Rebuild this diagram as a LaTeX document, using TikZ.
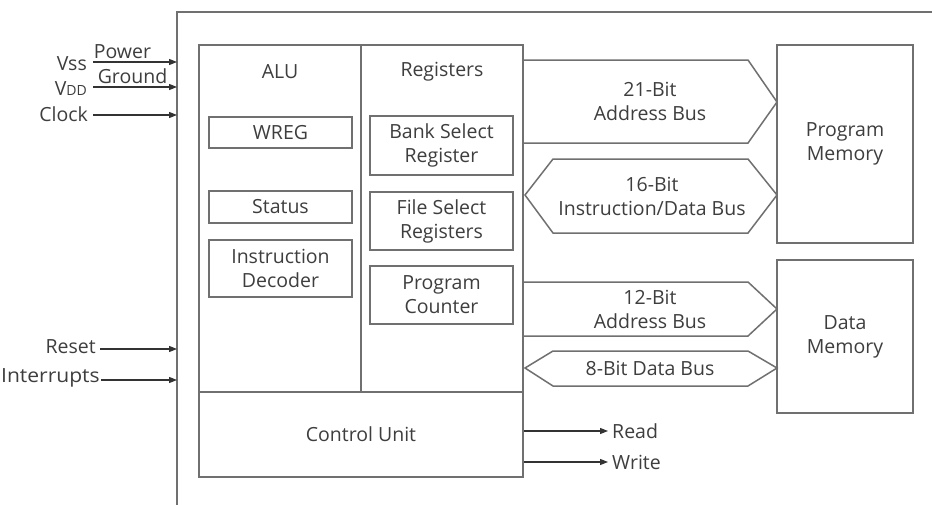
\documentclass[tikz,border=0pt]{standalone}
\usepackage{fontspec}
\setmainfont{Open Sans}
\usetikzlibrary{arrows.meta}
\definecolor{linegray}{HTML}{707070}
\definecolor{textgray}{HTML}{3E3E3E}
\definecolor{wiregray}{HTML}{333333}
\begin{document}
\begin{tikzpicture}[x=1pt,y=-1pt,
  every node/.style={text=textgray,font=\fontsize{19.5}{24}\selectfont,align=center},
  blk/.style={draw=linegray,line width=1.5pt,inner sep=0pt},
  bus/.style={draw=linegray,line width=1.5pt,line join=miter},
  wire/.style={draw=wiregray,line width=1.1pt,-{Triangle[length=8pt,width=6pt]}},
  lbl/.style={inner sep=1pt}]
\useasboundingbox (0,0) rectangle (932,504);
\fill[white] (0,0) rectangle (932,504);

% chip outline
\draw[linegray,line width=1.5pt] (934,12) -- (177,12) -- (177,506);

% CPU core blocks
\node[blk,minimum width=162pt,minimum height=347pt] (alu)  at (280,218.5) {};
\node[blk,minimum width=162pt,minimum height=347pt] (regs) at (442,218.5) {};
\node[blk,minimum width=324pt,minimum height=85pt]  (cu)   at (361,434.5) {Control Unit};
\node (alut)  at (280,72) {ALU};
\node (regt)  at (442,72) {Registers};

\node[blk,minimum width=143pt,minimum height=31pt] (wreg)   at (280.5,132.5) {WREG};
\node[blk,minimum width=143pt,minimum height=32pt] (status) at (280.5,207) {Status};
\node[blk,minimum width=143pt,minimum height=57pt] (idec)   at (280.5,268.5) {Instruction\\Decoder};
\node[blk,minimum width=143pt,minimum height=59pt] (bsr)    at (441.5,145.5) {Bank Select\\Register};
\node[blk,minimum width=143pt,minimum height=58pt] (fsr)    at (441.5,221) {File Select\\Registers};
\node[blk,minimum width=143pt,minimum height=58pt] (pc)     at (441.5,295) {Program\\Counter};

% memories
\node[blk,minimum width=136pt,minimum height=198pt] (pmem) at (845,144) {Program\\Memory};
\node[blk,minimum width=136pt,minimum height=153pt] (dmem) at (845,336.5) {Data\\Memory};

% buses
\draw[bus] (523,60) -- (748,60) -- (777,102) -- (748,143) -- (523,143);
\node (ab21) at (650,101) {21-Bit\\Address Bus};
\draw[bus] (525,195) -- (553,159) -- (748,159) -- (777,195) -- (748,233) -- (553,233) -- cycle;
\node (db16) at (652,196) {16-Bit\\Instruction/Data Bus};
\draw[bus] (523,282) -- (748,282) -- (777,309) -- (748,336) -- (523,336);
\node (ab12) at (650,309) {12-Bit\\Address Bus};
\draw[bus] (525,368) -- (553,351) -- (748,351) -- (777,368) -- (748,386) -- (553,386) -- cycle;
\node (db8) at (650,368) {8-Bit Data Bus};

% control outputs
\node[lbl,anchor=west] (rd) at (611,431) {Read};
\node[lbl,anchor=west] (wr) at (611,462) {Write};
\draw[wire,shorten >=3pt] (cu.east |- rd) -- (rd.west);
\draw[wire,shorten >=3pt] (cu.east |- wr) -- (wr.west);

% external inputs
\coordinate (pin1) at (177,62);
\coordinate (pin2) at (177,87);
\coordinate (pin3) at (177,115);
\coordinate (pin4) at (177,349);
\coordinate (pin5) at (177,380);
\node[lbl,anchor=east] (vss) at (88,64) {Vss};
\node[lbl,anchor=east] (vdd) at (88,89) {V{\fontsize{14}{16}\selectfont DD}};
\node[lbl,anchor=east] (clk) at (89,114) {Clock};
\node[lbl,anchor=east] (rst) at (97,347) {Reset};
\node[lbl,anchor=east,xscale=1.08] (irq) at (101,378) {Interrupts};
\draw[wire] (93,62) -- (pin1) node[pos=0.35,above=1.5pt,lbl] (pwr) {Power};
\draw[wire] (93,87) -- (pin2) node[pos=0.47,above=1.5pt,lbl] (gnd) {Ground};
\draw[wire] (93,115) -- (pin3);
\draw[wire] (100,349) -- (pin4);
\draw[wire] (101,380) -- (pin5);
\end{tikzpicture}
\end{document}
